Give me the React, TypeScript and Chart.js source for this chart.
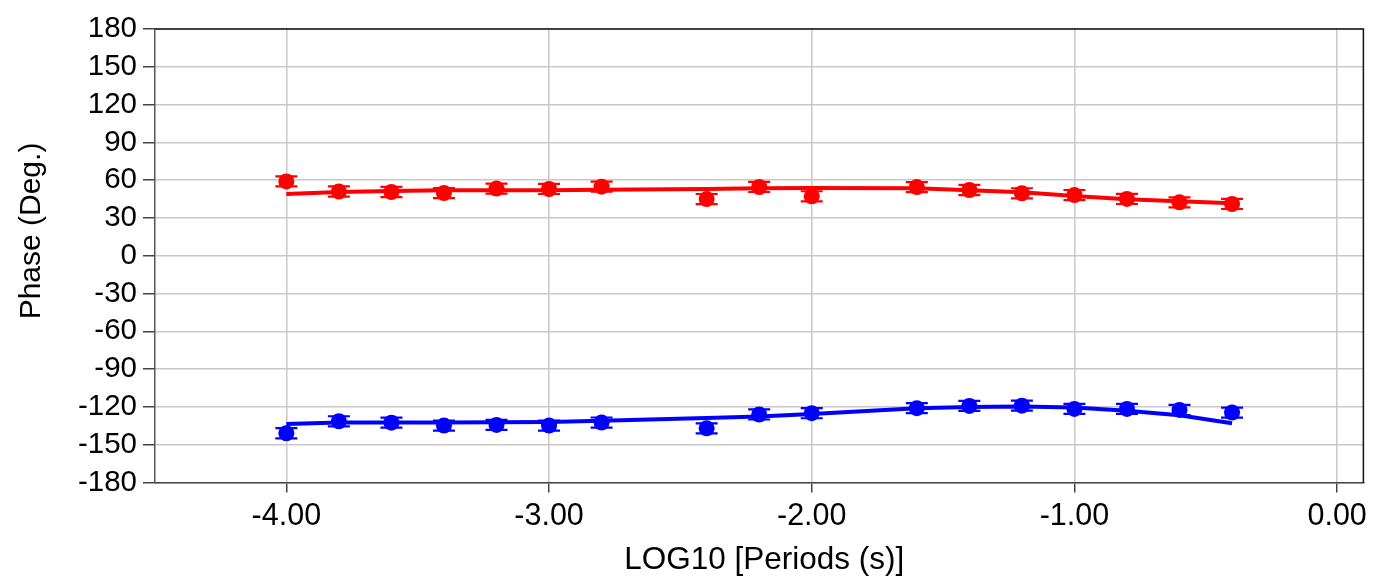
import React, { useEffect, useRef } from "react";
import { Chart, registerables } from "chart.js";

Chart.register(...registerables);

const periods = [-4.0, -3.8, -3.6, -3.4, -3.2, -3.0, -2.8, -2.4, -2.2, -2.0, -1.6, -1.4, -1.2, -1.0, -0.8, -0.6, -0.4];
const redObserved = [59, 51, 50.6, 49.8, 53.3, 53, 54.8, 45, 54.6, 47.2, 54.5, 52.2, 49.6, 48.2, 45.1, 42.4, 41.1];
const redModel = [49, 50.6, 51.4, 52, 52, 52, 52.3, 53, 53.6, 53.8, 53.6, 52, 50.4, 47.4, 44.8, 43.2, 41.6];
const blueObserved = [-140.9, -131.4, -132.5, -134.8, -134.3, -134.8, -132.4, -137, -126, -125, -121, -119.2, -119, -121.6, -121.6, -122.4, -124.5];
const blueModel = [-133.5, -132.3, -132.3, -132.3, -132.2, -132, -131, -128.8, -127.7, -125.6, -121, -120, -119.7, -120.5, -123, -126.6, -133];
const redError = [4, 4, 4, 4, 4, 4, 4, 4, 4, 4, 4, 4, 4, 4, 4, 4, 4];
const blueError = [4, 4, 4, 4, 4, 4, 4, 4, 4, 4, 4, 4, 4, 4, 4, 4, 4];
const xTicks = [-4, -3, -2, -1, 0];
const yTicks = [-180, -150, -120, -90, -60, -30, 0, 30, 60, 90, 120, 150, 180];
const xTitle = "LOG10 [Periods (s)]";
const yTitle = "Phase (Deg.)";

const FONT = "'Liberation Sans', Arial, sans-serif";

export default function App() {
  const ref = useRef<HTMLCanvasElement | null>(null);

  useEffect(() => {
    document.body.style.margin = "0";
    const canvas = ref.current;
    if (!canvas) return;

    const errorBars = {
      id: "errorBars",
      beforeDatasetsDraw(chart: any) {
        const ctx = chart.ctx;
        const xs = chart.scales.x;
        const ys = chart.scales.y;
        const sets = [
          { vals: redObserved, err: redError, color: "#ff0000" },
          { vals: blueObserved, err: blueError, color: "#0000ff" },
        ];
        ctx.save();
        ctx.lineWidth = 2.2;
        for (const s of sets) {
          ctx.strokeStyle = s.color;
          periods.forEach((p, i) => {
            const x = xs.getPixelForValue(p);
            const y1 = ys.getPixelForValue(s.vals[i] + s.err[i]);
            const y2 = ys.getPixelForValue(s.vals[i] - s.err[i]);
            ctx.beginPath();
            ctx.moveTo(x, y1);
            ctx.lineTo(x, y2);
            ctx.moveTo(x - 11, y1);
            ctx.lineTo(x + 11, y1);
            ctx.moveTo(x - 11, y2);
            ctx.lineTo(x + 11, y2);
            ctx.stroke();
          });
        }
        ctx.restore();
      },
      afterDraw(chart: any) {
        const { ctx, chartArea } = chart;
        ctx.save();
        ctx.strokeStyle = "#111";
        ctx.lineWidth = 1.5;
        ctx.beginPath();
        ctx.moveTo(chartArea.left, chartArea.top);
        ctx.lineTo(chartArea.right, chartArea.top);
        ctx.lineTo(chartArea.right, chartArea.bottom);
        ctx.stroke();

        // axis titles
        ctx.fillStyle = "#000";
        ctx.textBaseline = "middle";
        ctx.textAlign = "center";
        ctx.font = `31.5px ${FONT}`;
        ctx.fillText(xTitle, chartArea.left + (chartArea.right - chartArea.left) / 2 + 5, 560.5);
        ctx.translate(31.6, 231);
        ctx.rotate(-Math.PI / 2);
        ctx.font = `30px ${FONT}`;
        ctx.fillText(yTitle, 0, 0);
        ctx.restore();
      },
    };

    const chart = new Chart(canvas, {
      type: "scatter",
      data: {
        datasets: [
          {
            label: "Observed (red)",
            data: periods.map((p, i) => ({ x: p, y: redObserved[i] })),
            backgroundColor: "#ff0000",
            borderColor: "#ff0000",
            pointRadius: 8,
            pointBorderWidth: 0,
            showLine: false,
          },
          {
            label: "Model (red)",
            data: periods.map((p, i) => ({ x: p, y: redModel[i] })),
            borderColor: "#ff0000",
            borderWidth: 4,
            pointRadius: 0,
            showLine: true,
          },
          {
            label: "Observed (blue)",
            data: periods.map((p, i) => ({ x: p, y: blueObserved[i] })),
            backgroundColor: "#0000ff",
            borderColor: "#0000ff",
            pointRadius: 8,
            pointBorderWidth: 0,
            showLine: false,
          },
          {
            label: "Model (blue)",
            data: periods.map((p, i) => ({ x: p, y: blueModel[i] })),
            borderColor: "#0000ff",
            borderWidth: 4,
            pointRadius: 0,
            showLine: true,
          },
        ],
      },
      options: {
        animation: false,
        responsive: false,
        maintainAspectRatio: false,
        layout: { padding: { left: 0, top: 29, right: 9, bottom: 0 } },
        plugins: { legend: { display: false }, tooltip: { enabled: false } },
        scales: {
          x: {
            type: "linear",
            min: -4.5,
            max: 0.1,
            afterBuildTicks: (scale: any) => {
              scale.ticks = xTicks.map((v) => ({ value: v }));
            },
            afterFit: (scale: any) => {
              scale.height = 99.5;
            },
            grid: {
              color: "#c8c8c8",
              lineWidth: 1.5,
              tickColor: "#444",
              tickLength: 10,
              drawTicks: true,
            },
            border: { color: "#444", width: 1.5 },
            ticks: {
              color: "#000",
              padding: 6,
              maxRotation: 0,
              autoSkip: false,
              font: { family: FONT, size: 30.5 },
              callback: (v: any) => Number(v).toFixed(2),
            },
            title: { display: false },
          },
          y: {
            type: "linear",
            min: -180,
            max: 180,
            afterBuildTicks: (scale: any) => {
              scale.ticks = yTicks.map((v) => ({ value: v }));
            },
            afterFit: (scale: any) => {
              scale.width = 155;
            },
            grid: {
              color: "#c8c8c8",
              lineWidth: 1.5,
              tickColor: "#444",
              tickLength: 12,
              drawTicks: true,
            },
            border: { color: "#555", width: 1.5 },
            ticks: {
              color: "#000",
              padding: 6,
              autoSkip: false,
              font: { family: FONT, size: 29.5 },
            },
            title: { display: false },
          },
        },
      },
      plugins: [errorBars],
    } as any);

    return () => chart.destroy();
  }, []);

  return (
    <div style={{ width: 1373, height: 582 }}>
      <canvas ref={ref} width={1373} height={582} style={{ display: "block" }} />
    </div>
  );
}
